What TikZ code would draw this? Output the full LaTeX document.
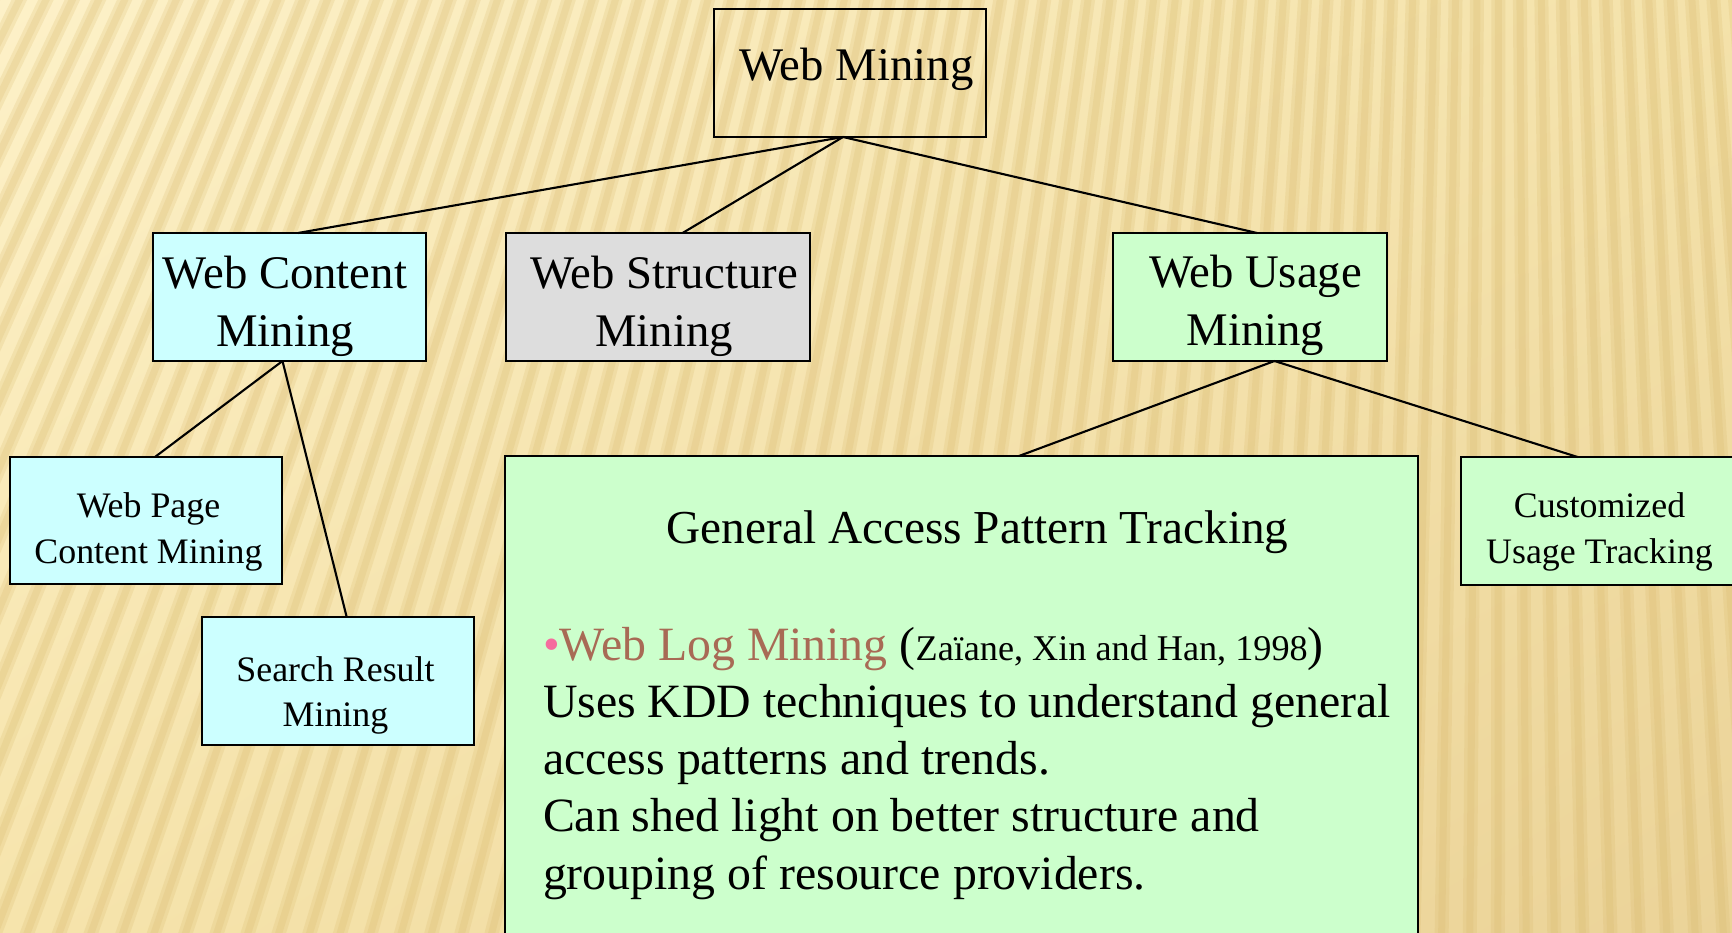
\documentclass[tikz,border=0pt]{standalone}
\usepackage{fontspec}
\setmainfont{Liberation Serif}
\usetikzlibrary{calc,shadings}

\definecolor{bgUL}{HTML}{FDF1C8}
\definecolor{bgUR}{HTML}{F4E2AA}
\definecolor{bgLL}{HTML}{F6E4AC}
\definecolor{bgLR}{HTML}{EBD398}
\definecolor{stripe}{HTML}{D6B566}
\definecolor{cyanfill}{HTML}{CCFFFF}
\definecolor{grayfill}{HTML}{DDDDDD}
\definecolor{greenfill}{HTML}{CCFFCC}
\definecolor{logbrown}{HTML}{A86A55}
\definecolor{bulletpink}{HTML}{F56C9E}

% stacked lines whose baseline is the baseline of the first line
\newcommand\stackc[1]{\begin{tabular}[t]{@{}c@{}}#1\end{tabular}}
\newcommand\stackl[1]{\begin{tabular}[t]{@{}l@{}}#1\end{tabular}}

\tikzset{
  box/.style={draw=black, line width=0.6pt, rectangle, inner sep=0pt, outer sep=0pt},
  link/.style={draw=black, line width=0.6pt},
  lbl/.style={anchor=base, inner sep=0pt, outer sep=0pt, text=black},
  bigtxt/.style={font=\fontsize{13.3pt}{16.5pt}\selectfont},
  smalltxt/.style={font=\fontsize{10.2pt}{12.9pt}\selectfont},
  bodytxt/.style={font=\fontsize{13.6pt}{16.3pt}\selectfont},
}

\begin{document}
\begin{tikzpicture}
\useasboundingbox (0,0) rectangle (17.32,9.32);

% ---- striped golden backdrop ----
\begin{scope}
  \clip (0,0) rectangle (17.32,9.32);
  \shade[upper left=bgUL, upper right=bgUR, lower left=bgLL, lower right=bgLR]
    (0,0) rectangle (17.32,9.32);
  \foreach \a in {242.5,242.91,...,275.6}{
    \draw[stripe, line width=0.14cm, opacity=0.2]
      (15,39.32) ++(\a:28) -- ++(\a:17);
    \draw[stripe, line width=0.07cm, opacity=0.2]
      (15,39.32) ++(\a:28) -- ++(\a:17);
  }
\end{scope}

% ---- boxes ----
\node[box, minimum width=2.72cm, minimum height=1.28cm] (wm)   at (8.50,8.59) {};
\node[box, fill=cyanfill,  minimum width=2.73cm, minimum height=1.28cm] (wcm)  at (2.895,6.35) {};
\node[box, fill=grayfill,  minimum width=3.04cm, minimum height=1.28cm] (wsm)  at (6.58,6.35) {};
\node[box, fill=greenfill, minimum width=2.74cm, minimum height=1.28cm] (wum)  at (12.50,6.35) {};
\node[box, fill=cyanfill,  minimum width=2.72cm, minimum height=1.27cm] (wpcm) at (1.46,4.115) {};
\node[box, fill=cyanfill,  minimum width=2.72cm, minimum height=1.28cm] (srm)  at (3.38,2.51) {};
\node[box, fill=greenfill, minimum width=9.13cm, minimum height=4.89cm] (gapt) at (9.615,2.315) {};
\node[box, fill=greenfill, minimum width=2.84cm, minimum height=1.28cm] (cut)  at (16.03,4.11) {};

% ---- connectors ----
\draw[link] ([xshift=-0.07cm]wm.south) -- ([xshift=0.085cm]wcm.north);
\draw[link] ([xshift=-0.07cm]wm.south) -- ([xshift=0.246cm]wsm.north);
\draw[link] ([xshift=-0.07cm]wm.south) -- ([xshift=0.07cm]wum.north);
\draw[link] ([xshift=-0.07cm]wcm.south) -- ([xshift=0.09cm]wpcm.north);
\draw[link] ([xshift=-0.07cm]wcm.south) -- ([xshift=0.087cm]srm.north);
\draw[link] ([xshift=0.245cm]wum.south) -- ([xshift=5.14cm]gapt.north west);
\draw[link] ([xshift=0.245cm]wum.south) -- ([xshift=1.165cm]cut.north west);

% ---- labels ----
\node[lbl, bigtxt] (wm-t)  at (8.565,8.51) {Web Mining};
\node[lbl, bigtxt] (wcm-t) at (2.85,6.43) {\stackc{Web Content\\Mining}};
\node[lbl, bigtxt] (wsm-t) at (6.64,6.43) {\stackc{Web Structure\\Mining}};
\node[lbl, bigtxt] (wum-t) at (12.555,6.44) {\stackc{Web Usage\\Mining}};
\node[lbl, smalltxt] (wpcm-t) at (1.485,4.14) {\stackc{Web Page\\Content Mining}};
\node[lbl, smalltxt] (srm-t)  at (3.355,2.51) {\stackc{Search Result\\Mining}};
\node[lbl, smalltxt] (cut-t)  at (15.995,4.143) {\stackc{Customized\\Usage Tracking}};
\node[lbl, font=\fontsize{13.45pt}{16.3pt}\selectfont] (gapt-t) at (9.775,3.88)
  {General Access Pattern Tracking};
\node[lbl, bodytxt, anchor=base west] (gapt-b) at (5.43,2.72) {\stackl{%
  {\color{bulletpink}•}{\color{logbrown}Web Log Mining} ({\fontsize{10.3pt}{12pt}\selectfont Zaïane, Xin and Han, 1998})\\
  Uses KDD techniques to understand general\\
  access patterns and trends.\\
  Can shed light on better structure and\\
  grouping of resource providers.}};
\end{tikzpicture}
\end{document}
